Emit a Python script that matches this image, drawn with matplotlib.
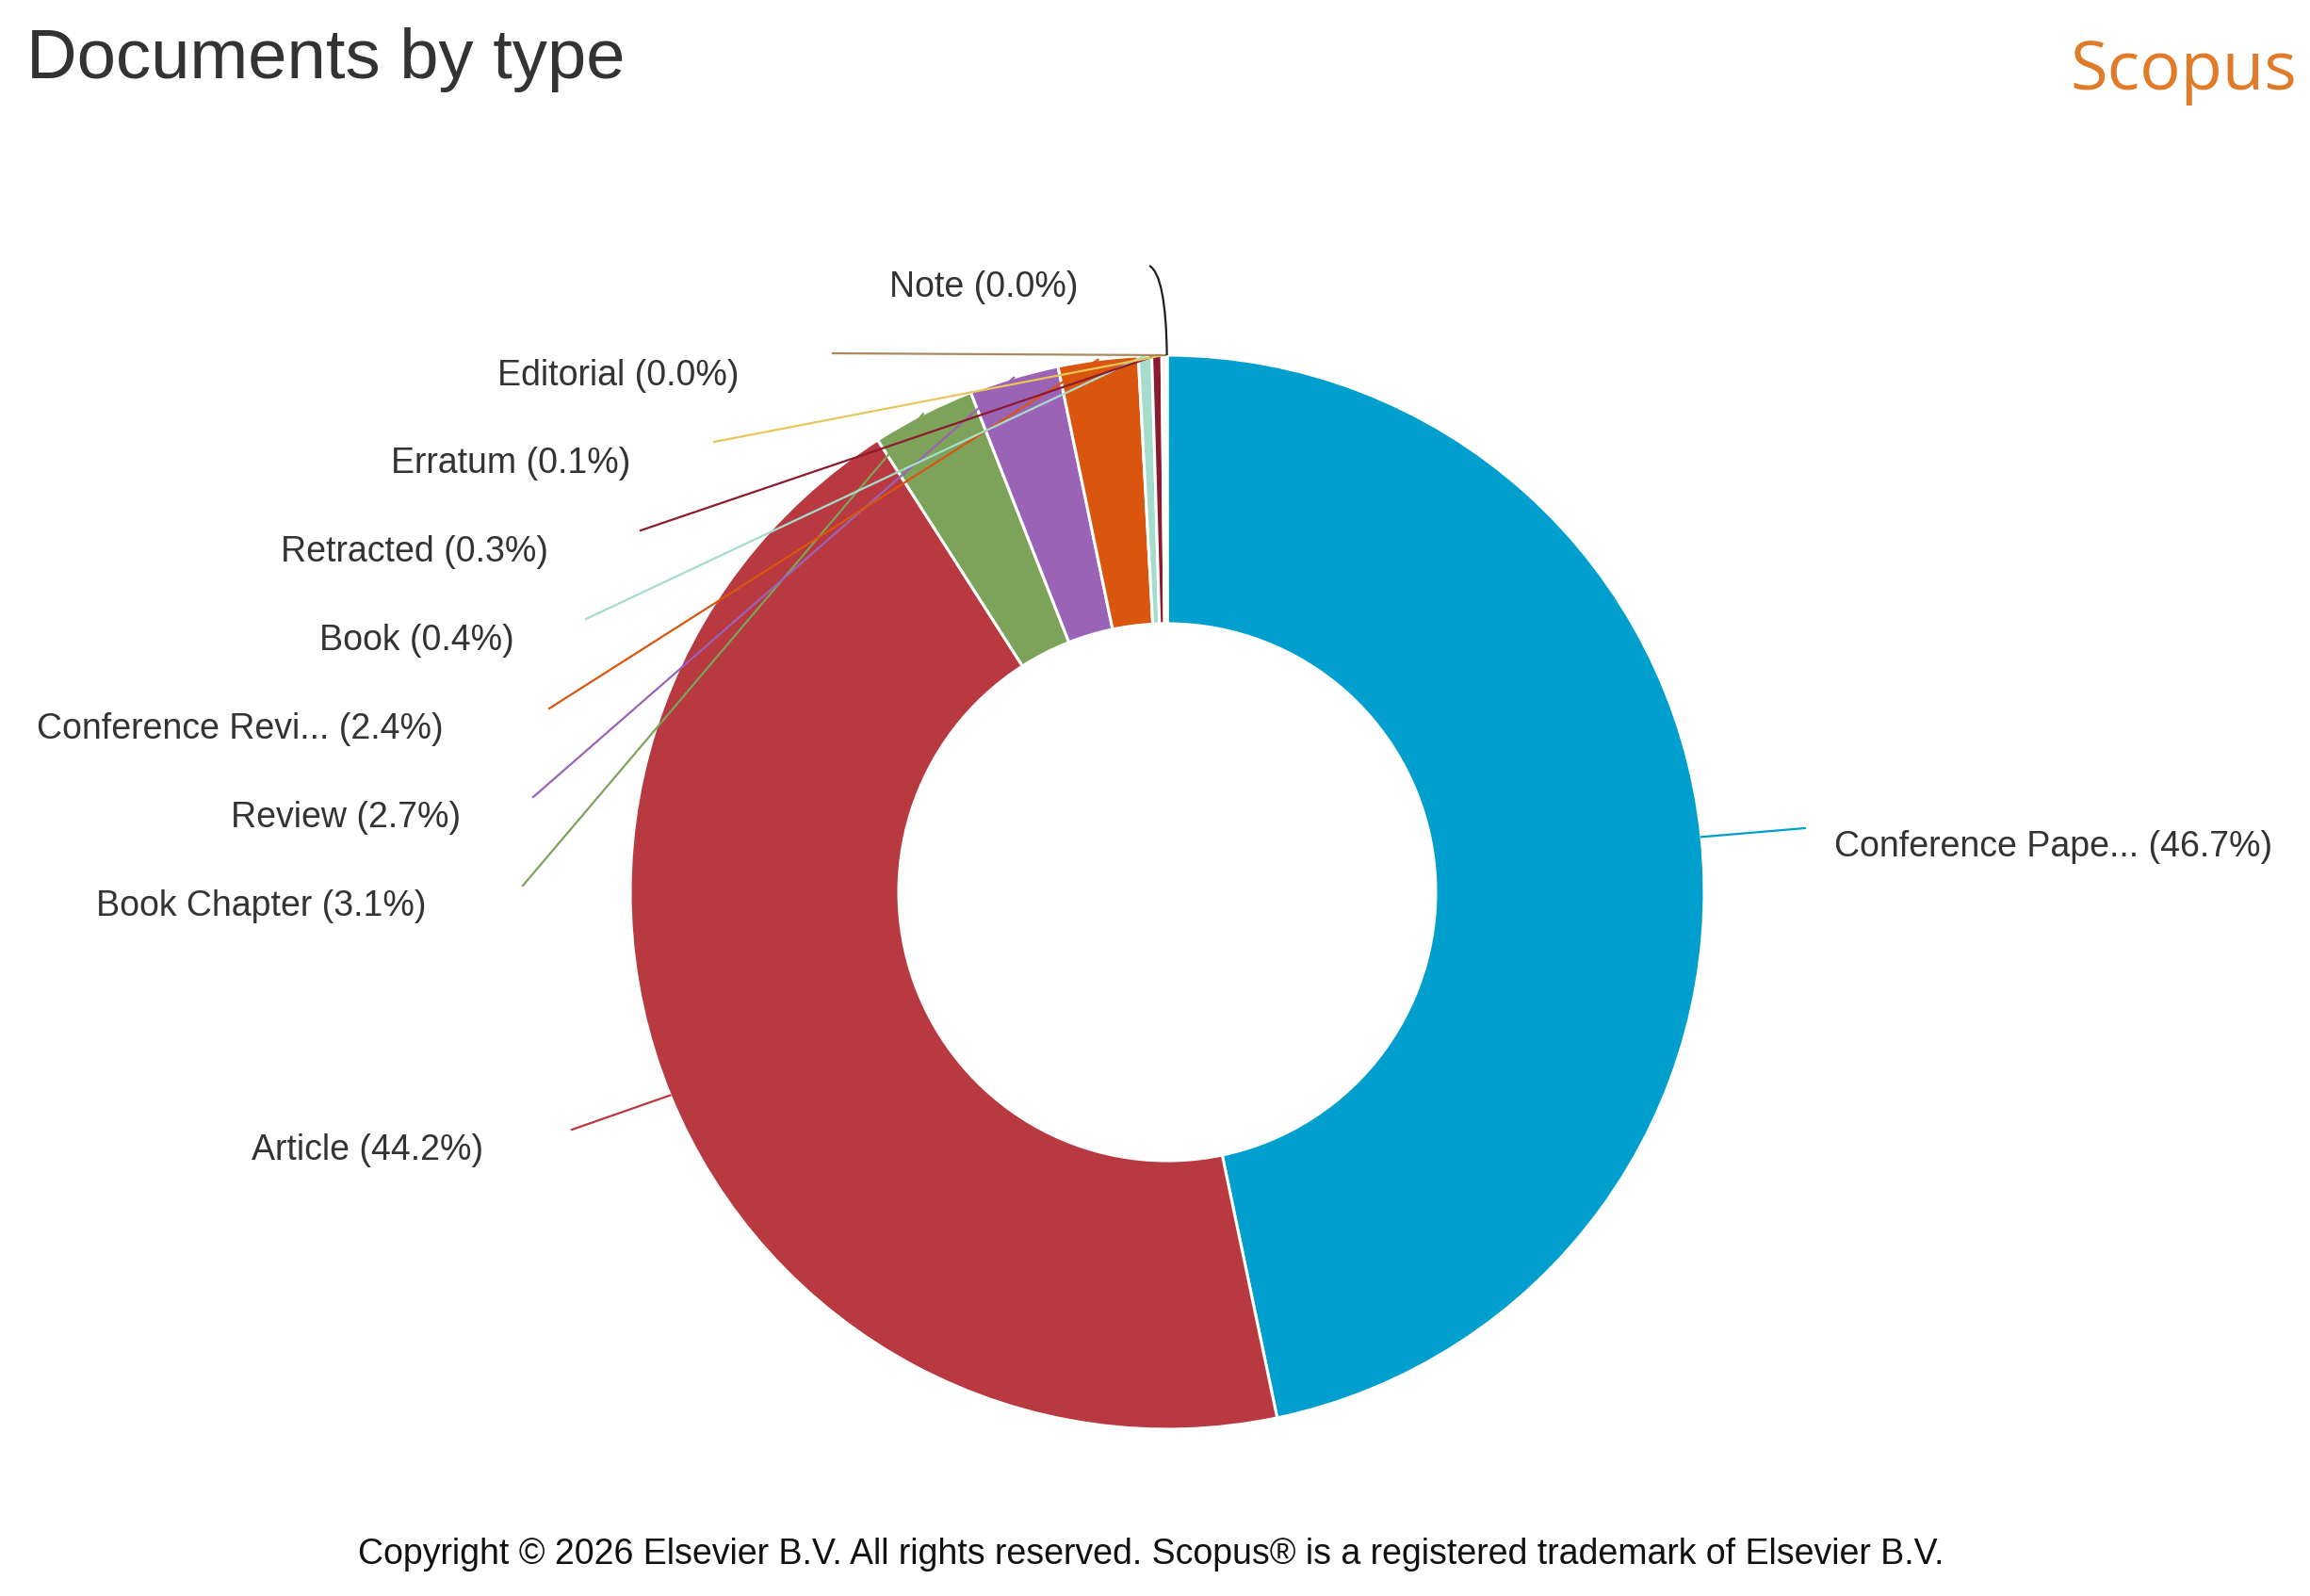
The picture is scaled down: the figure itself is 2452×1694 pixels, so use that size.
import numpy as np
import matplotlib
matplotlib.use('Agg')
import matplotlib.pyplot as plt
from matplotlib.path import Path
from matplotlib.patches import PathPatch

plt.rcParams['font.family'] = ['Liberation Sans', 'DejaVu Sans']

# data (share of documents, %)
doc_types = ['Conference Pape...', 'Article', 'Book Chapter', 'Review', 'Conference Revi...',
             'Book', 'Retracted', 'Erratum', 'Editorial', 'Note']
shares = [46.7, 44.2, 3.1, 2.7, 2.4, 0.4, 0.3, 0.1, 0.04, 0.02]
colors = ['#009FCE', '#B8393F', '#7DA35A', '#9B63B6', '#DA560F',
          '#A5DCCB', '#8A1C2E', '#E9C65A', '#A88A5E', '#1E1E1E']

# layout, pixel coords (y down)
W, H = 2452, 1694
CX, CY, R = 1239, 947, 570
label_pos = [(1947, 899), (513, 1221), (453, 962), (489, 868), (471, 774),
             (546, 680), (582, 586), (669, 492), (785, 399), (1145, 305)]
leader_start = [(1916, 879), (607, 1199), (555, 940), (566, 846), (583, 752),
                (622, 657), (680, 563), (758, 469), (884, 375), (1220, 282)]

fig = plt.figure(figsize=(W / 100, H / 100), dpi=100)
ax = fig.add_axes([0, 0, 1, 1])

ax.pie(shares, colors=colors, center=(CX, CY), radius=R, startangle=-90,
       counterclock=True, wedgeprops=dict(width=R * 0.5, edgecolor='white', linewidth=2.2))
ax.set_xlim(0, W)
ax.set_ylim(H, 0)
ax.set_aspect('equal')
ax.axis('off')

total = sum(shares)
cum = np.cumsum([0] + shares[:-1])
for i, (name, val) in enumerate(zip(doc_types, shares)):
    theta = np.deg2rad(-90 + 360 * (cum[i] + val / 2) / total)
    ex, ey = CX + R * np.cos(theta), CY + R * np.sin(theta)
    sx, sy = leader_start[i]
    if name == 'Note':
        path = Path([(sx, sy), (ex - 1, sy + 10), (ex, ey)], [Path.MOVETO, Path.CURVE3, Path.CURVE3])
        ax.add_patch(PathPatch(path, fill=False, edgecolor=colors[i], linewidth=1.6, zorder=5))
    else:
        ax.plot([sx, ex], [sy, ey], color=colors[i], linewidth=1.6, zorder=5)
    tx, ty = label_pos[i]
    ha = 'left' if i == 0 else 'right'
    ax.text(tx, ty, f'{name} ({val:.1f}%)', ha=ha, va='center', fontsize=27, color='#333333')

ax.text(28, 63, 'Documents by type', ha='left', va='center', fontsize=53.5, color='#333333')
ax.text(2438, 76, 'Scopus', ha='right', va='center', fontsize=52, color='#E07B2A', family='Open Sans')
ax.text(1222, 1650, 'Copyright \u00a9 2026 Elsevier B.V. All rights reserved. Scopus\u00ae is a registered trademark of Elsevier B.V.',
        ha='center', va='center', fontsize=27, color='#111111')

fig.savefig('out.png', dpi=100, facecolor='white')
